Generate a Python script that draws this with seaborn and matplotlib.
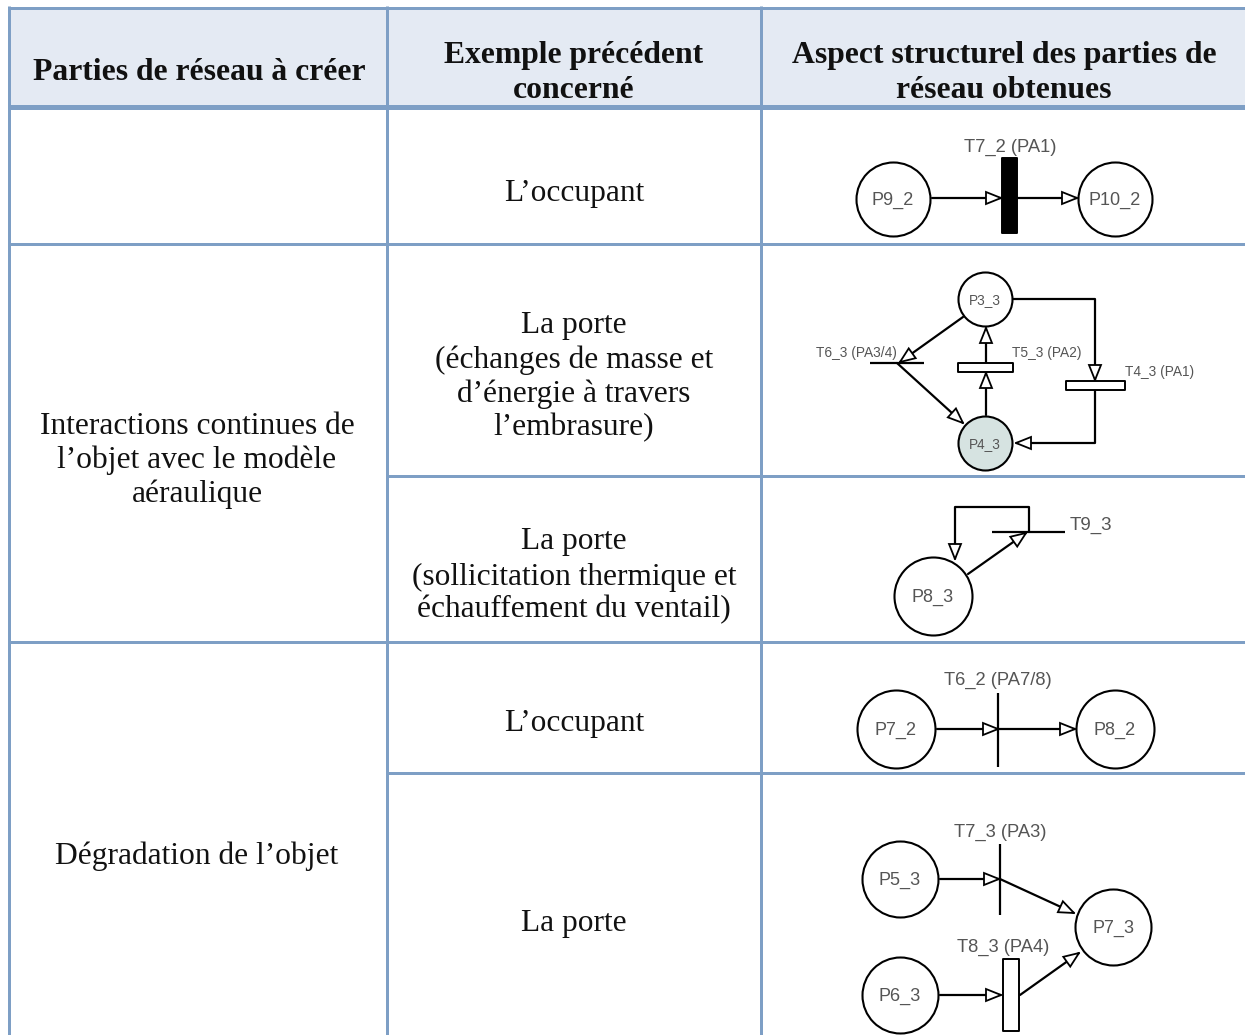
import matplotlib
matplotlib.use("Agg")
import matplotlib.pyplot as plt
from matplotlib.patches import Polygon, Rectangle
import numpy as np
import seaborn as sns

sns.set_theme(style="white")
SERIF = ["Liberation Serif", "DejaVu Serif"]
SANS = ["Liberation Sans", "DejaVu Sans"]

BORDER = "#7E9FC5"
HEAD = "#E4EAF3"
INK = "#111111"
GREY = "#555555"

# ---- table text ----
headers = [(199, [(70, "Parties de réseau à créer")]),
           (574, [(53, "Exemple précédent"), (88, "concerné")]),
           (1004, [(53, "Aspect structurel des parties de"), (88, "réseau obtenues")])]
col1_text = [(423, "Interactions continues de"), (457, "l’objet avec le modèle"),
             (491, "aéraulique"), (853, "Dégradation de l’objet")]
col2_text = [(190, "L’occupant"), (323, "La porte"), (357, "(échanges de masse et"),
             (391, "d’énergie à travers"), (425, "l’embrasure)"), (539, "La porte"),
             (574, "(sollicitation thermique et"), (607, "échauffement du ventail)"),
             (721, "L’occupant"), (920, "La porte")]

# ---- Petri-net content: name, x, y, radius, fill, font size ----
places = [("P9_2", 893, 199, 37, "white", 13), ("P10_2", 1115, 199, 37, "white", 13),
          ("P3_3", 985, 299, 27, "white", 9.8), ("P4_3", 985, 443, 27, "#D6E3E1", 9.8),
          ("P8_3", 933, 596, 39, "white", 13),
          ("P7_2", 896, 729, 39, "white", 13), ("P8_2", 1115, 729, 39, "white", 13),
          ("P5_3", 900, 879, 38, "white", 13), ("P6_3", 900, 995, 38, "white", 13),
          ("P7_3", 1113, 927, 38, "white", 13)]
trans_boxes = [(1002, 158, 15, 75, "black"), (958, 363, 55, 9, "white"),
               (1066, 381, 59, 9, "white"), (1003, 959, 16, 72, "white")]
trans_bars = [((870, 924), (363, 363)), ((992, 1065), (532, 532)),
              ((998, 998), (693, 767)), ((1000, 1000), (844, 915))]
trans_labels = [("T7_2 (PA1)", 1010, 147, 13.2, "center"), ("T6_3 (PA3/4)", 897, 353, 9.9, "right"),
                ("T5_3 (PA2)", 1012, 353, 9.9, "left"), ("T4_3 (PA1)", 1125, 372, 9.9, "left"),
                ("T9_3", 1070, 525, 13.5, "left"), ("T6_2 (PA7/8)", 998, 680, 13.2, "center"),
                ("T7_3 (PA3)", 1000, 832, 13.2, "center"), ("T8_3 (PA4)", 1003, 947, 13.2, "center")]
# arcs: polyline points, ending at the arrow tip
arcs = [[(932, 198), (1001, 198)], [(1017, 198), (1077, 198)],
        [(963, 317), (900, 362)], [(897, 363), (963, 423)],
        [(986, 363), (986, 328)], [(986, 415), (986, 373)],
        [(1012, 299), (1095, 299), (1095, 380)], [(1095, 390), (1095, 443), (1016, 443)],
        [(1029, 532), (1029, 507), (955, 507), (955, 559)], [(968, 574), (1026, 533)],
        [(937, 729), (998, 729)], [(998, 729), (1075, 729)],
        [(940, 879), (999, 879)], [(1000, 879), (1074, 913)],
        [(940, 995), (1001, 995)], [(1020, 995), (1079, 953)]]

fig = plt.figure(figsize=(12.45, 10.35), dpi=100)
ax = fig.add_axes([0, 0, 1, 1])
ax.set_xlim(0, 1245)
ax.set_ylim(1035, 0)
ax.axis("off")

# table frame
ax.add_patch(Rectangle((8, 7), 1237, 99, fc=HEAD, ec="none", zorder=0))
hlines = [(7.5, 8, 1245, 3), (106.5, 8, 1245, 5), (243.5, 8, 1245, 3), (475.5, 387, 1245, 3),
          (641.5, 8, 1245, 3), (773, 387, 1245, 3)]
for y, x0, x1, w in hlines:
    ax.plot([x0, x1], [y, y], color=BORDER, lw=w * 0.72, solid_capstyle="butt", zorder=1)
for x in (8.5, 386.5, 760.5):
    ax.plot([x, x], [6, 1035], color=BORDER, lw=3 * 0.72, solid_capstyle="butt", zorder=1)
ax.add_patch(Rectangle((817, 473), 378, 2.2, fc="white", ec="none", zorder=1.5))

DY = 3
for cx, lines in headers:
    for y, s in lines:
        ax.text(cx, y + DY, s, ha="center", va="center", family=SERIF, weight="bold", fontsize=22.8, color=INK)
for y, s in col1_text:
    ax.text(197, y + DY, s, ha="center", va="center", family=SERIF, fontsize=22.7, color=INK)
for y, s in col2_text:
    ax.text(574, y + DY, s, ha="center", va="center", family=SERIF, fontsize=22.6, color=INK)


def arrowhead(tip, prev, length=15, width=12):
    tip, prev = np.array(tip, float), np.array(prev, float)
    d = (tip - prev) / np.linalg.norm(tip - prev)
    n = np.array([-d[1], d[0]])
    base = tip - d * length
    ax.add_patch(Polygon([tip, base + n * width / 2, base - n * width / 2], closed=True,
                         fc="white", ec="black", lw=1.3, zorder=5))


for pts in arcs:
    xs, ys = zip(*pts)
    sns.lineplot(x=list(xs), y=list(ys), ax=ax, color="black", lw=1.6, sort=False,
                 estimator=None, zorder=4, legend=False)
    arrowhead(pts[-1], pts[-2])

for xs, ys in trans_bars:
    ax.plot(xs, ys, color="black", lw=1.6, solid_capstyle="butt", zorder=6)
for x, y, w, h, c in trans_boxes:
    ax.add_patch(Rectangle((x, y), w, h, fc=c, ec="black", lw=1.4, joinstyle="round", zorder=6))
for s, x, y, fs, ha in trans_labels:
    ax.text(x, y, s, ha=ha, va="center", family=SANS, fontsize=fs, color=GREY, zorder=7)

for name, x, y, r, fill, fs in places:
    sns.scatterplot(x=[x], y=[y], ax=ax, s=(2 * r * 0.72) ** 2, facecolor=fill,
                    edgecolor="black", linewidth=1.5, zorder=6, legend=False, clip_on=False)
    ax.text(x, y + 1, name, ha="center", va="center", family=SANS, fontsize=fs, color=GREY, zorder=7)

ax.set_xlim(0, 1245)
ax.set_ylim(1035, 0)
ax.set_xlabel("")
ax.set_ylabel("")
fig.savefig("out.png", dpi=100, facecolor="white")
